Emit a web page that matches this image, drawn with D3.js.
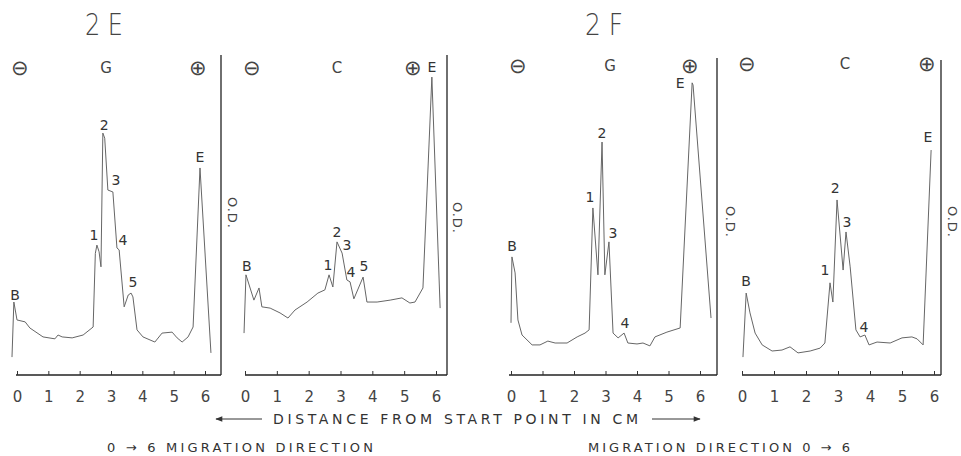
<!DOCTYPE html>
<html>
<head>
<meta charset="utf-8">
<script src="https://cdn.jsdelivr.net/npm/d3@7"></script>
<style>
  body { margin: 0; background: #fff; }
  svg { display: block; font-family: "DejaVu Sans", sans-serif; }
  .trace { fill: none; stroke: #666; stroke-width: 1; stroke-linejoin: round; }
  .frame { stroke: #222; stroke-width: 1.3; }
  .axis text { fill: #444; font-size: 15px; font-family: "DejaVu Sans", sans-serif; }
  .axis line { stroke: #333; stroke-width: 1; }
  .peak { fill: #333; font-size: 14px; }
</style>
</head>
<body>
<div id="chart"></div>
<script>
// densitometer traces, [distance cm, O.D. as % of panel height]
const traceEG = [[-0.16,5.6],[-0.10,22.8],[0.00,17.2],[0.26,16.6],[0.41,14.7],[0.83,11.9],[1.21,11.3],[1.31,12.5],[1.44,11.9],[1.76,11.6],[2.11,12.5],[2.43,15.0],[2.50,38.0],[2.55,40.6],[2.62,38.5],[2.68,33.8],[2.74,75.6],[2.80,74.0],[2.90,57.8],[3.06,57.2],[3.19,39.7],[3.26,39.1],[3.42,21.3],[3.55,25.0],[3.64,25.6],[3.70,24.4],[3.83,14.1],[4.02,11.9],[4.40,10.3],[4.63,13.1],[4.95,13.4],[5.11,11.6],[5.27,10.3],[5.46,11.9],[5.62,15.0],[5.84,64.7],[6.19,6.9]];
const traceEC = [[-0.03,13.1],[0.03,31.3],[0.28,23.4],[0.44,27.2],[0.53,21.3],[0.79,20.9],[1.10,19.4],[1.35,17.8],[1.57,20.3],[1.95,22.8],[2.29,25.6],[2.51,26.6],[2.64,31.3],[2.76,27.5],[2.89,41.6],[3.05,38.1],[3.20,29.7],[3.30,29.1],[3.42,23.8],[3.71,30.6],[3.83,22.8],[4.15,22.8],[4.56,23.4],[4.93,24.1],[5.18,22.5],[5.34,22.8],[5.59,27.2],[5.87,93.1],[6.13,20.9]];
const traceFG = [[0.00,16.3],[0.03,36.9],[0.13,31.9],[0.22,17.2],[0.35,12.5],[0.67,9.4],[0.92,9.4],[1.17,10.6],[1.40,10.0],[1.78,10.0],[2.10,11.9],[2.35,13.1],[2.48,14.1],[2.60,52.2],[2.76,31.3],[2.89,72.8],[2.98,31.3],[3.11,41.6],[3.24,13.1],[3.40,11.6],[3.59,13.1],[3.71,10.0],[4.00,9.7],[4.19,10.0],[4.41,9.1],[4.57,11.9],[4.95,13.4],[5.37,14.7],[5.75,91.3],[5.78,90.6],[6.35,17.8]];
const traceFC = [[0.03,5.6],[0.13,25.6],[0.25,19.4],[0.41,13.1],[0.63,9.4],[0.94,7.5],[1.25,7.8],[1.50,8.8],[1.75,6.9],[2.13,7.5],[2.44,8.4],[2.59,10.0],[2.75,28.8],[2.84,22.8],[2.97,54.7],[3.16,32.8],[3.25,44.7],[3.38,33.8],[3.56,14.1],[3.69,11.9],[3.84,12.5],[3.97,9.4],[4.22,10.3],[4.63,10.0],[5.00,11.6],[5.31,11.9],[5.47,11.3],[5.66,9.4],[5.91,70.3]];

// peak labels [text, cm, O.D.]
const labelsEG = [["B",-0.06,25.0],["1",2.46,43.8],["2",2.78,78.1],["3",3.16,60.9],["4",3.38,42.2],["5",3.70,29.1],["E",5.84,68.1]];
const labelsEC = [["B",0.06,34.1],["1",2.61,34.4],["2",2.89,44.7],["3",3.20,40.6],["4",3.33,32.2],["5",3.74,34.1],["E",5.87,96.3]];
const labelsFG = [["B",0.03,40.3],["1",2.51,55.6],["2",2.89,75.6],["3",3.24,44.4],["4",3.62,16.3],["E",5.37,91.3]];
const labelsFC = [["B",0.13,29.4],["1",2.59,32.8],["2",2.91,58.4],["3",3.28,47.8],["4",3.81,15.0],["E",5.81,74.4]];

const tickValues = [0, 1, 2, 3, 4, 5, 6];
const panelLetters = ["G", "C", "G", "C"];
const figureTitles = ["2E", "2F"];

const width = 961, height = 456;
const baseY = 375, topY = 55;

// panel layout in pixels
const panels = [
  {trace: traceEG, labels: labelsEG, x0: 17, x6: 205, start: 16, right: 221, top: 55, minus: 20, mid: 106, plus: 198, symY: 68, odX: 232, odY: 213},
  {trace: traceEC, labels: labelsEC, x0: 245, x6: 436, start: 245, right: 447, top: 55, minus: 252, mid: 337, plus: 413, symY: 68, odX: 457, odY: 218},
  {trace: traceFG, labels: labelsFG, x0: 511, x6: 700, start: 509, right: 717, top: 58, minus: 518, mid: 610, plus: 690, symY: 66, odX: 730, odY: 222},
  {trace: traceFC, labels: labelsFC, x0: 742, x6: 934, start: 742, right: 941, top: 60, minus: 747, mid: 845, plus: 927, symY: 64, odX: 952, odY: 222}
];

const svg = d3.select("#chart").append("svg")
  .attr("width", width)
  .attr("height", height);

const y = d3.scaleLinear().domain([0, 100]).range([baseY, topY]);

panels.forEach(function (p, i) {
  const x = d3.scaleLinear().domain([0, 6]).range([p.x0, p.x6]);
  const g = svg.append("g");

  // frame: right O.D. line and baseline
  g.append("line").attr("class", "frame")
    .attr("x1", p.right).attr("x2", p.right)
    .attr("y1", p.top).attr("y2", baseY);
  g.append("line").attr("class", "frame")
    .attr("x1", p.start).attr("x2", p.right)
    .attr("y1", baseY).attr("y2", baseY);

  const axis = g.append("g")
    .attr("class", "axis")
    .attr("transform", "translate(0," + baseY + ")")
    .call(d3.axisBottom(x).tickValues(tickValues).tickSize(-4).tickPadding(16).tickFormat(d3.format("d")));
  axis.select(".domain").remove();

  const line = d3.line()
    .x(d => x(d[0]))
    .y(d => y(d[1]));

  g.append("path")
    .datum(p.trace)
    .attr("class", "trace")
    .attr("d", line);

  g.selectAll("text.peak")
    .data(p.labels)
    .enter()
    .append("text")
    .attr("class", "peak")
    .attr("text-anchor", "middle")
    .attr("dominant-baseline", "central")
    .attr("x", d => x(d[1]))
    .attr("y", d => y(d[2]))
    .text(d => d[0]);

  // electrode signs and gel letter
  g.append("text")
    .attr("x", p.minus).attr("y", p.symY)
    .attr("text-anchor", "middle").attr("dominant-baseline", "central")
    .attr("font-size", 21).attr("font-weight", 300).attr("fill", "#444")
    .text("\u2296");
  g.append("text")
    .attr("x", p.mid).attr("y", p.symY)
    .attr("text-anchor", "middle").attr("dominant-baseline", "central")
    .attr("font-size", 15).attr("fill", "#444")
    .text(panelLetters[i]);
  g.append("text")
    .attr("x", p.plus).attr("y", p.symY)
    .attr("text-anchor", "middle").attr("dominant-baseline", "central")
    .attr("font-size", 21).attr("font-weight", 300).attr("fill", "#444")
    .text("\u2295");

  g.append("text")
    .attr("transform", "translate(" + p.odX + "," + p.odY + ") rotate(90)")
    .attr("text-anchor", "middle").attr("dominant-baseline", "central")
    .attr("font-size", 13).attr("fill", "#444")
    .attr("letter-spacing", 1)
    .text("O.D.");
});

// figure titles
[[104, figureTitles[0]], [604, figureTitles[1]]].forEach(function (t) {
  svg.append("text")
    .attr("x", t[0]).attr("y", 35)
    .attr("text-anchor", "middle")
    .attr("font-size", 30).attr("font-weight", 300).attr("fill", "#444")
    .attr("textLength", 38).attr("lengthAdjust", "spacingAndGlyphs")
    .text(t[1].split("").join(" "));
});

// bottom caption with arrows
svg.append("text")
  .attr("x", 273).attr("y", 424)
  .attr("font-size", 14).attr("fill", "#333")
  .attr("textLength", 365).attr("lengthAdjust", "spacing")
  .text("DISTANCE FROM START POINT IN CM");

svg.append("defs").append("marker")
  .attr("id", "head")
  .attr("viewBox", "0 0 10 10")
  .attr("refX", 9).attr("refY", 5)
  .attr("markerWidth", 9).attr("markerHeight", 7)
  .attr("orient", "auto-start-reverse")
  .append("path").attr("d", "M0,1 L10,5 L0,9 Z").attr("fill", "#333");

svg.append("line")
  .attr("x1", 262).attr("x2", 216).attr("y1", 419).attr("y2", 419)
  .attr("stroke", "#333").attr("stroke-width", 1)
  .attr("marker-end", "url(#head)");
svg.append("line")
  .attr("x1", 652).attr("x2", 700).attr("y1", 419).attr("y2", 419)
  .attr("stroke", "#333").attr("stroke-width", 1)
  .attr("marker-end", "url(#head)");

svg.append("text")
  .attr("x", 107).attr("y", 452)
  .attr("font-size", 13).attr("fill", "#333")
  .attr("textLength", 266).attr("lengthAdjust", "spacing")
  .text("0 \u2192 6  MIGRATION  DIRECTION");

svg.append("text")
  .attr("x", 588).attr("y", 452)
  .attr("font-size", 13).attr("fill", "#333")
  .attr("textLength", 262).attr("lengthAdjust", "spacing")
  .text("MIGRATION  DIRECTION  0 \u2192 6");
</script>
</body>
</html>
